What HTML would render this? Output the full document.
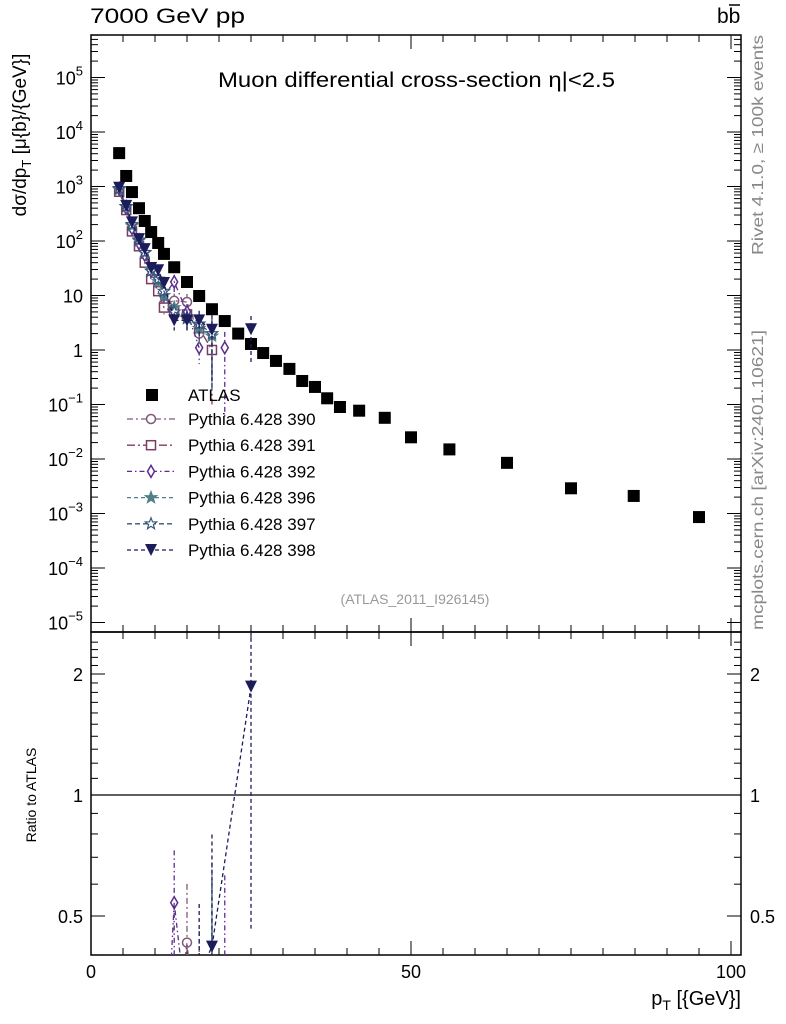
<!DOCTYPE html>
<html><head><meta charset="utf-8"><style>
html,body{margin:0;padding:0;background:#fff;overflow:hidden;width:786px;height:1024px}
svg{display:block}
svg text{font-family:"Liberation Sans",sans-serif}
</style></head><body>
<svg id="c" width="786" height="1024" xmlns="http://www.w3.org/2000/svg">
<defs>
<clipPath id="mainclip"><rect x="91" y="35" width="650" height="597"/></clipPath>
<clipPath id="ratclip"><rect x="91" y="632" width="650" height="323"/></clipPath>
</defs>
<text x="90" y="23" font-size="21" textLength="155" lengthAdjust="spacingAndGlyphs">7000 GeV pp</text>
<text x="717" y="23" font-size="21">bb</text>
<line x1="729" x2="740" y1="5" y2="5" stroke="#000" stroke-width="1.5"/>
<text x="218" y="87" font-size="21" textLength="397" lengthAdjust="spacingAndGlyphs">Muon differential cross-section η|&lt;2.5</text>
<text x="415" y="604" font-size="14" fill="#999" text-anchor="middle">(ATLAS_2011_I926145)</text>
<text transform="translate(763,255) rotate(-90)" font-size="16" fill="#888" textLength="220" lengthAdjust="spacingAndGlyphs">Rivet 4.1.0, ≥ 100k events</text>
<text transform="translate(763,630) rotate(-90)" font-size="16" fill="#888" textLength="300" lengthAdjust="spacingAndGlyphs">mcplots.cern.ch [arXiv:2401.10621]</text>
<text transform="translate(26,135) rotate(-90)" font-size="19" text-anchor="middle">dσ/dp<tspan font-size="13" dy="5">T</tspan><tspan dy="-5"> [μ{b}/{GeV}]</tspan></text>
<text transform="translate(36,795) rotate(-90)" font-size="14" text-anchor="middle">Ratio to ATLAS</text>
<text x="741" y="1005" font-size="20" text-anchor="end">p<tspan font-size="14" dy="5">T</tspan><tspan dy="-5"> [{GeV}]</tspan></text>
<g id="g"></g>
</svg>
<script>
const ptAtlas=[4.4,5.5,6.4,7.5,8.4,9.4,10.5,11.4,13,15,16.9,18.9,20.9,23,25,26.9,28.9,31,33,35,36.9,38.9,41.9,45.9,50,56,65,75,84.8,95];
const atlasVals=[4100,1560,790,400,233,146,92,58,33,17.7,9.8,5.6,3.4,2.0,1.29,0.88,0.63,0.45,0.27,0.21,0.13,0.09,0.077,0.057,0.025,0.015,0.0085,0.0029,0.0021,0.00086];
const ptSim=[4.4,5.5,6.4,7.5,8.4,9.4,10.5,11.4,13,15,16.9,18.9,20.9,23,25];
const sim390=[850,380,160,85,48,22,15,7,8,7.6,2.0,null,null,null,null];
const sim391=[800,370,150,80,40,20,12,6,5,4.5,2.5,1.0,null,null,null];
const sim392=[900,400,170,90,55,28,20,10,17.8,5,1.1,null,1.1,null,null];
const sim396=[880,420,190,100,60,30,18,10,6,4.0,2.5,1.8,null,null,null];
const sim397=[920,430,200,105,62,28,20,12,5,3.8,3.0,2.0,null,null,null];
const sim398=[950,440,220,108,71,32,29,17,3.5,3.5,3.5,2.35,null,null,2.4];
const errFrac=[0.05,0.05,0.08,0.1,0.1,0.15,0.2,0.25,0.35,0.4,0.5,0.9,0.95,0.8,0.75];
const xTicks=[0,50,100];
const ratioTicks=[0.5,1,2];

const NS="http://www.w3.org/2000/svg";
const G=document.getElementById('g');
const X=v=>91+v*6.4;
const Y=v=>350-Math.log10(v)*54.5;
const R=v=>795-Math.log2(v)*121;
function mk(t,a,p){const e=document.createElementNS(NS,t);for(const k in a)e.setAttribute(k,a[k]);(p||G).appendChild(e);return e;}

let f=mk('rect',{x:91,y:35,width:650,height:597,fill:'none',stroke:'#000','stroke-width':1.5});


f=mk('rect',{x:91,y:632,width:650,height:323,fill:'none',stroke:'#000','stroke-width':1.5});



for(let d=-5;d<=5;d++){
  for(let m=1;m<10;m++){
    const v=m*Math.pow(10,d);const y=Y(v);if(y<35||y>632)continue;
    const L=m==1?14:7;
    mk('line',{x1:91,x2:91+L,y1:y,y2:y,stroke:'#000'});
    mk('line',{x1:741,x2:741-L,y1:y,y2:y,stroke:'#000'});
  }
  const y=Y(Math.pow(10,d));
  let lab=mk('text',{x:83,y:y+7,'font-size':18,'text-anchor':'end'});
  if(d>=0&&d<=1){lab.textContent=String(Math.pow(10,d));}
  else{lab.innerHTML='10<tspan font-size="13" dy="-9">'+(d<0?'−'+(-d):d)+'</tspan>';}
  
  
}
for(let v=0;v<=100;v+=5){
  const x=X(v);if(x>741)continue;const L=v%50==0?14:7;
  mk('line',{x1:x,x2:x,y1:632,y2:632-L,stroke:'#000'});
  mk('line',{x1:x,x2:x,y1:955,y2:955-L,stroke:'#000'});
  mk('line',{x1:x,x2:x,y1:632,y2:632+L,stroke:'#000'});
  mk('line',{x1:x,x2:x,y1:35,y2:35+L,stroke:'#000'});
}
xTicks.forEach(v=>{const t=mk('text',{x:X(v),y:978,'font-size':18,'text-anchor':'middle'});t.textContent=v;

});
for(let v=0.4;v<=2.5;v+=0.1){const y=R(v);if(y<632||y>955)continue;
  const big=ratioTicks.some(r=>Math.abs(r-v)<1e-6);const L=big?14:7;
  mk('line',{x1:91,x2:91+L,y1:y,y2:y,stroke:'#000'});mk('line',{x1:741,x2:741-L,y1:y,y2:y,stroke:'#000'});}
ratioTicks.forEach(v=>{
  let t=mk('text',{x:83,y:R(v)+7,'font-size':18,'text-anchor':'end'});t.textContent=v;
  
  
  t=mk('text',{x:750,y:R(v)+7,'font-size':18});t.textContent=v;
  
  
});
let ref=mk('line',{x1:91,x2:741,y1:R(1),y2:R(1),stroke:'#000','stroke-width':1.2});



const gm=mk('g',{'clip-path':'url(#mainclip)'});
const gr=mk('g',{'clip-path':'url(#ratclip)'});

function marker(kind,x,y,col,p){
  let e;
  if(kind=='sq') e=mk('rect',{x:x-6,y:y-6,width:12,height:12,fill:'#000'},p);
  else if(kind=='circ') e=mk('circle',{cx:x,cy:y,r:4.5,fill:'#fff',stroke:col,'stroke-width':1.5},p);
  else if(kind=='osq') e=mk('rect',{x:x-4.5,y:y-4.5,width:9,height:9,fill:'#fff',stroke:col,'stroke-width':1.5},p);
  else if(kind=='dia') e=mk('polygon',{points:`${x},${y-6} ${x+3.5},${y} ${x},${y+6} ${x-3.5},${y}`,fill:'#fff',stroke:col,'stroke-width':1.5},p);
  else if(kind=='star'||kind=='ostar'){let pts=[];for(let i=0;i<10;i++){const r=i%2?2.5:6;const a=-Math.PI/2+i*Math.PI/5;pts.push((x+r*Math.cos(a)).toFixed(1)+','+(y+r*Math.sin(a)).toFixed(1));}
    e=mk('polygon',{points:pts.join(' '),fill:kind=='star'?col:'#fff',stroke:col,'stroke-width':1.2},p);}
  else e=mk('polygon',{points:`${x-6},${y-6} ${x+6},${y-6} ${x},${y+6}`,fill:col},p);
  return e;
}

atlasVals.forEach((v,i)=>{const m=marker('sq',X(ptAtlas[i]),Y(v),'#000',gm);
  
  });

const series=[
 {name:'390',vals:sim390,col:'#82577a',mk:'circ',dash:'6,3,2,3'},
 {name:'391',vals:sim391,col:'#7a3d62',mk:'osq',dash:'8,3,2,3'},
 {name:'392',vals:sim392,col:'#5b2d8e',mk:'dia',dash:'5,3,1.5,3'},
 {name:'396',vals:sim396,col:'#4f8088',mk:'star',dash:'4,3'},
 {name:'397',vals:sim397,col:'#35557a',mk:'ostar',dash:'5,3'},
 {name:'398',vals:sim398,col:'#1c1c5a',mk:'tri',dash:'4,3'}
];
series.forEach((s,si)=>{
  let pts=[],rpts=[];
  s.vals.forEach((v,i)=>{
    if(v==null){if(pts.length>1){mk('polyline',{points:pts.join(' '),fill:'none',stroke:s.col,'stroke-width':1.3,'stroke-dasharray':s.dash},gm);}pts=[];return;}
    const x=X(ptSim[i]),y=Y(v);pts.push(x+','+y);
    const e=errFrac[i];
    mk('line',{x1:x,x2:x,y1:Y(v*(1+e)),y2:Y(Math.max(v*(1-e),1e-6)),stroke:s.col,'stroke-width':1.3,'stroke-dasharray':s.dash},gm);
    const m=marker(s.mk,x,y,s.col,gm);
    
    
    const ai=ptAtlas.indexOf(ptSim[i]);const r=v/atlasVals[ai];
    const ry=R(r);rpts.push(x+','+ry);
    mk('line',{x1:x,x2:x,y1:R(r*(1+e)),y2:R(Math.max(r*(1-e),0.01)),stroke:s.col,'stroke-width':1.3,'stroke-dasharray':s.dash},gr);
    const rm=marker(s.mk,x,ry,s.col,gr);
    
    
  });
  if(pts.length>1)mk('polyline',{points:pts.join(' '),fill:'none',stroke:s.col,'stroke-width':1.3,'stroke-dasharray':s.dash},gm);
  if(rpts.length>1)mk('polyline',{points:rpts.join(' '),fill:'none',stroke:s.col,'stroke-width':1.3,'stroke-dasharray':s.dash},gr);
  const ly=419+si*26.2;
  const lg=mk('g',{});
  
  
  mk('line',{x1:127,x2:175,y1:ly,y2:ly,stroke:s.col,'stroke-width':1.3,'stroke-dasharray':s.dash},lg);
  marker(s.mk,151,ly,s.col,lg);
  const t=mk('text',{x:188,y:ly+6,'font-size':17},lg);t.textContent='Pythia 6.428 '+s.name;
});
const la=mk('g',{});


marker('sq',152,395,'#000',la);
const lt=mk('text',{x:188,y:401,'font-size':17},la);lt.textContent='ATLAS';
</script>
</body></html>
